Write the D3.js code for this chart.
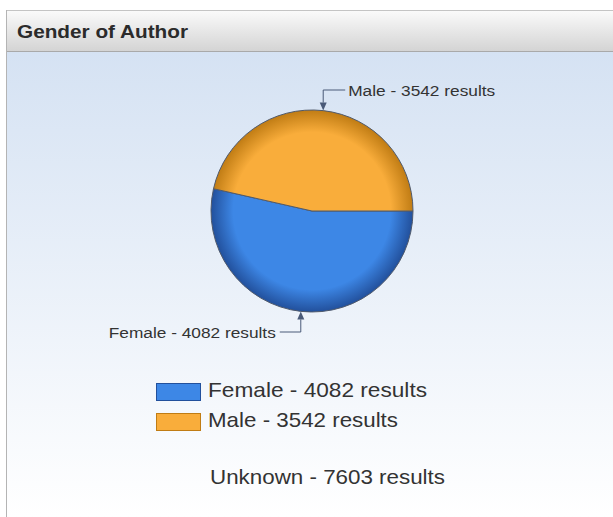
<!DOCTYPE html>
<html>
<head>
<meta charset="utf-8">
<script src="https://cdn.jsdelivr.net/npm/d3@7"></script>
<style>
  body { margin: 0; background: #fff; }
  svg { display: block; font-family: "Liberation Sans", Arial, sans-serif; }
</style>
</head>
<body>
<script>
var width = 613;
var height = 517;

var title = "Gender of Author";
var categories = ["Female", "Male"];
var values = [4082, 3542];
var colors = ["#3d87e6", "#f9ad3b"];
var rims = ["#22509c", "#c07c14"];
var unknownLabel = "Unknown";
var unknownValue = 7603;

var svg = d3.select("body").append("svg")
    .attr("width", width)
    .attr("height", height);

var defs = svg.append("defs");

var hg = defs.append("linearGradient").attr("id", "hdr").attr("x1", 0).attr("y1", 0).attr("x2", 0).attr("y2", 1);
hg.append("stop").attr("offset", "0%").attr("stop-color", "#fafafa");
hg.append("stop").attr("offset", "100%").attr("stop-color", "#d4d4d4");

var bg = defs.append("linearGradient").attr("id", "bdy").attr("x1", 0).attr("y1", 0).attr("x2", 0).attr("y2", 1);
bg.append("stop").attr("offset", "0%").attr("stop-color", "#d5e2f3");
bg.append("stop").attr("offset", "100%").attr("stop-color", "#ffffff");

categories.forEach(function(c, i) {
    var rg = defs.append("radialGradient").attr("id", "sl" + i)
        .attr("gradientUnits", "userSpaceOnUse")
        .attr("cx", 0).attr("cy", 0).attr("r", 101);
    rg.append("stop").attr("offset", "0%").attr("stop-color", colors[i]);
    rg.append("stop").attr("offset", "78%").attr("stop-color", colors[i]);
    rg.append("stop").attr("offset", "100%").attr("stop-color", rims[i]);
});

// panel
svg.append("rect").attr("x", 7).attr("y", 52).attr("width", width - 7).attr("height", height - 52)
    .attr("fill", "url(#bdy)");
svg.append("rect").attr("x", 7).attr("y", 11).attr("width", width - 7).attr("height", 40)
    .attr("fill", "url(#hdr)");
svg.append("line").attr("x1", 6).attr("x2", width).attr("y1", 10.5).attr("y2", 10.5)
    .attr("stroke", "#c4c4c4");
svg.append("line").attr("x1", 6).attr("x2", width).attr("y1", 51.5).attr("y2", 51.5)
    .attr("stroke", "#a9a9a9");
svg.append("line").attr("x1", 6.5).attr("x2", 6.5).attr("y1", 10).attr("y2", height)
    .attr("stroke", "#b4b4b4");

svg.append("text").attr("x", 17).attr("y", 38)
    .attr("font-size", 18).attr("font-weight", "bold").attr("fill", "#2b2b2b")
    .attr("textLength", 171).attr("lengthAdjust", "spacingAndGlyphs")
    .text(title);

// pie
var cx = 312, cy = 211, r = 101;
var data = categories.map(function(c, i) { return { name: c, value: values[i], i: i }; });

var pie = d3.pie().sort(null).value(function(d) { return d.value; })
    .startAngle(Math.PI / 2).endAngle(Math.PI / 2 + 2 * Math.PI);
var arc = d3.arc().innerRadius(0).outerRadius(r);
var arcs = pie(data);

var g = svg.append("g").attr("transform", "translate(" + cx + "," + cy + ")");
g.selectAll("path").data(arcs).enter().append("path")
    .attr("d", arc)
    .attr("fill", function(d) { return "url(#sl" + d.data.i + ")"; })
    .attr("stroke", "#505a6c")
    .attr("stroke-width", 1)
    .attr("stroke-linejoin", "round");

// leaders
var lineColor = "#4a5a78";
var labelWidths = [167, 147];
arcs.forEach(function(d) {
    var a = (d.startAngle + d.endAngle) / 2;
    var px = r * Math.sin(a), py = -r * Math.cos(a);
    var dir = py < 0 ? -1 : 1;
    var ey = dir * (r + 20);
    var hx = px < 0 ? px - 21 : px + 22;
    g.append("path")
        .attr("d", "M" + px + "," + (py + dir * 8) + "V" + ey + "H" + hx)
        .attr("fill", "none").attr("stroke", lineColor).attr("stroke-width", 1);
    g.append("path")
        .attr("d", "M" + px + "," + py + "L" + (px - 3.5) + "," + (py + dir * 8) + "L" + (px + 3.5) + "," + (py + dir * 8) + "Z")
        .attr("fill", lineColor);
    var left = px > 0;
    g.append("text")
        .attr("x", left ? hx + 3 : hx - 4)
        .attr("y", ey + 5.5)
        .attr("text-anchor", left ? "start" : "end")
        .attr("font-size", 15.5).attr("fill", "#333")
        .attr("textLength", labelWidths[d.data.i]).attr("lengthAdjust", "spacingAndGlyphs")
        .text(d.data.name + " - " + d.data.value + " results");
});

// legend
var legendWidths = [219, 190];
var lg = svg.append("g").attr("transform", "translate(156,383)");
var item = lg.selectAll("g").data(data).enter().append("g")
    .attr("transform", function(d, i) { return "translate(0," + (i * 30) + ")"; });
item.append("rect").attr("x", 0.5).attr("y", 0.5).attr("width", 44).attr("height", 17)
    .attr("fill", function(d) { return colors[d.i]; })
    .attr("stroke", function(d) { return rims[d.i]; });
item.append("text").attr("x", 52).attr("y", 14)
    .attr("font-size", 21).attr("fill", "#333")
    .attr("textLength", function(d) { return legendWidths[d.i]; })
    .attr("lengthAdjust", "spacingAndGlyphs")
    .text(function(d) { return d.name + " - " + d.value + " results"; });

svg.append("text").attr("x", 210).attr("y", 484)
    .attr("font-size", 21).attr("fill", "#333")
    .attr("textLength", 235).attr("lengthAdjust", "spacingAndGlyphs")
    .text(unknownLabel + " - " + unknownValue + " results");
</script>
</body>
</html>
